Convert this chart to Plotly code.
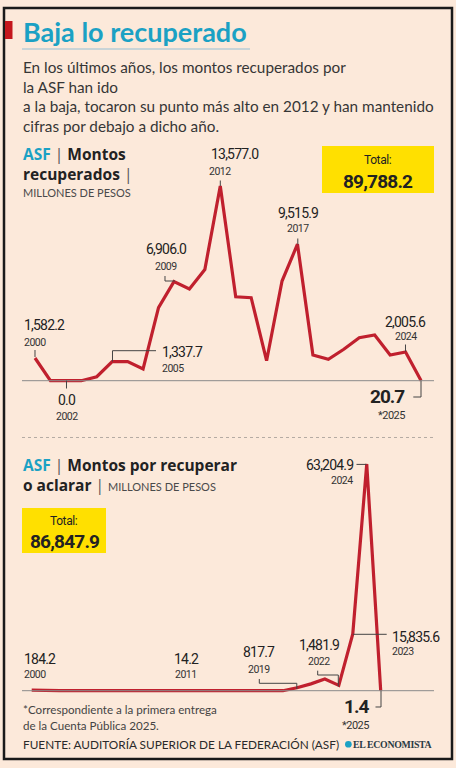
import plotly.graph_objects as go

# ---------------- data ----------------
years = list(range(2000, 2026))
recuperados = [1582.2, 0.0, 0.0, 0.0, 280.0, 1337.7, 1337.0, 815.0, 5100.0, 6906.0,
               6400.0, 7750.0, 13577.0, 5850.0, 5790.0, 1395.0, 6950.0, 9515.9,
               1790.0, 1490.0, 2190.0, 3000.0, 3190.0, 1790.0, 2005.6, 20.7]
por_recuperar = [184.2, 35.0, 20.0, 10.0, 12.0, 15.0, 8.0, 10.0, 12.0, 9.0,
                 7.0, 14.2, 5.0, 4.0, 3.0, 2.0, 2.0, 2.0, 2.0, 817.7,
                 1900.0, 3250.0, 1481.9, 15835.6, 63204.9, 1.4]
total_recuperados = "89,788.2"
total_por_recuperar = "86,847.9"
labels1 = [("1,582.2", "2000"), ("0.0", "2002"), ("1,337.7", "2005"), ("6,906.0", "2009"),
           ("13,577.0", "2012"), ("9,515.9", "2017"), ("2,005.6", "2024"), ("20.7", "*2025")]
labels2 = [("184.2", "2000"), ("14.2", "2011"), ("817.7", "2019"), ("1,481.9", "2022"),
           ("15,835.6", "2023"), ("63,204.9", "2024"), ("1.4", "*2025")]

# ---------------- layout helpers ----------------
W, H = 456, 768
BG = "#FCE9DA"
RED = "#C0202E"
TEAL = "#1BA1C4"
YELLOW = "#FFE000"
DARK = "#222222"
GREY = "#444444"
NUM = "Roboto, sans-serif"
SANS = "Lato, 'Open Sans', sans-serif"
HEAD = "'Open Sans', Lato, sans-serif"


def px(x):
    return x / W


def py(y):
    return 1 - y / H


def tight(t, ls=-0.8):
    return f"<span style='letter-spacing:{ls}px'>{t}</span>"


# chart 1 pixel mapping
X1_0, X1_S = 35.0, 15.44
Y1_0, Y1_K = 380.7, 69.73
# chart 2 pixel mapping
X2_0, X2_S = 31.7, 13.96
Y2_0, Y2_K = 690.7, 278.8

y1min, y1max = -600, 14200
y2min, y2max = -2000, 65500

fig = go.Figure()
fig.add_trace(go.Scatter(x=years, y=recuperados, mode="lines",
                         line=dict(color=RED, width=3.2), xaxis="x", yaxis="y",
                         hoverinfo="skip"))
fig.add_trace(go.Scatter(x=years, y=por_recuperar, mode="lines",
                         line=dict(color=RED, width=3.2), xaxis="x2", yaxis="y2",
                         hoverinfo="skip"))

ax = dict(visible=False, fixedrange=True)
fig.update_layout(
    width=W, height=H, autosize=False,
    margin=dict(l=0, r=0, t=0, b=0),
    paper_bgcolor=BG, plot_bgcolor="rgba(0,0,0,0)",
    showlegend=False, hovermode=False,
    xaxis=dict(ax, range=[1999.5, 2025.5],
               domain=[px(X1_0 - 0.5 * X1_S), px(X1_0 + 25.5 * X1_S)]),
    yaxis=dict(ax, range=[y1min, y1max],
               domain=[py(Y1_0 - y1min / Y1_K), py(Y1_0 - y1max / Y1_K)]),
    xaxis2=dict(ax, range=[1999.5, 2025.5],
                domain=[px(X2_0 - 0.5 * X2_S), px(X2_0 + 25.5 * X2_S)]),
    yaxis2=dict(ax, range=[y2min, y2max],
                domain=[py(Y2_0 - y2min / Y2_K), py(Y2_0 - y2max / Y2_K)]),
)

shapes = []


def rect(x0, y0, x1, y1, fill=None, line=None, lw=0):
    shapes.append(dict(type="rect", xref="paper", yref="paper",
                       x0=px(x0), x1=px(x1), y0=py(y1), y1=py(y0),
                       fillcolor=fill if fill else "rgba(0,0,0,0)",
                       line=dict(color=line if line else "rgba(0,0,0,0)", width=lw),
                       layer="below"))


def path(points, color=GREY, width=1, dash="solid"):
    d = "M " + " L ".join(f"{px(x):.5f},{py(y):.5f}" for x, y in points)
    shapes.append(dict(type="path", xref="paper", yref="paper", path=d,
                       line=dict(color=color, width=width, dash=dash)))


# frame
rect(4, 8, 452, 759, line="#1a1a1a", lw=2.5)
# red marker + title underline
rect(5, 21, 12.5, 39, fill="#C4161C")
path([(22, 49), (250, 49)], color="#B9CCD6", width=1.5)
# yellow boxes
rect(322, 146, 434, 193, fill=YELLOW)
rect(22, 508, 106, 553, fill=YELLOW)
# baselines
path([(22, Y1_0), (434, Y1_0)], color="#8a8a8a", width=1)
path([(22, Y2_0), (434, Y2_0)], color="#8a8a8a", width=1)
# separator
path([(22, 437.5), (434, 437.5)], color="#b5aaa2", width=1, dash="dot")

# connectors chart 1
path([(35, 350), (35, 357)])
path([(66.5, 380.7), (66.5, 388.5)])
path([(112.5, 361.5), (112.5, 350.7), (156, 350.7)])
path([(165, 276), (165, 281), (175, 281)])
path([(220.3, 180.5), (220.3, 186)])
path([(297.8, 238.5), (297.8, 244.5)])
path([(405.5, 344.5), (405.5, 351.5)])
path([(421, 380.7), (421, 397), (413.3, 397)])
# connectors chart 2
path([(356.5, 464.4), (366.5, 464.4)])
path([(352.8, 634.3), (386.7, 634.3)])
path([(381, 690.7), (381, 707), (375.5, 707)])
path([(259.3, 679), (259.3, 683.3), (296.8, 683.3), (296.8, 689)])
path([(317.7, 670.7), (317.7, 675), (338.3, 675), (338.3, 686.5)])

# logo icon
shapes.append(dict(type="circle", xref="paper", yref="paper",
                   x0=px(345), x1=px(351.7), y0=py(747.6), y1=py(740.9),
                   fillcolor=TEAL, line=dict(width=0)))

fig.update_layout(shapes=shapes)

ann = []


def text(t, x, y, anchor="left", size=12, color=DARK, family=NUM):
    ann.append(dict(text=t, x=px(x), y=py(y), xref="paper", yref="paper",
                    xanchor=anchor, yanchor="middle", showarrow=False, align="left",
                    font=dict(size=size, color=color, family=family)))


def value(v, x, y, anchor, size=14):
    text(tight(v, -0.8), x, y, anchor=anchor, size=size)


def year(v, x, y, anchor, size=10.5):
    text(tight(v, -0.5), x, y, anchor=anchor, size=size, color="#333")


# title + intro
text("<b>Baja lo recuperado</b>", 21, 31, size=27, color=TEAL, family=SANS)
body = ["En los últimos años, los montos recuperados por",
        "la ASF han ido",
        "a la baja, tocaron su punto más alto en 2012 y han mantenido",
        "cifras por debajo a dicho año."]
for i, line in enumerate(body):
    text(line, 21, 67 + i * 19.7, size=15.3, color="#363636", family=SANS)

BAR = "<span style='color:#555;font-weight:normal'>|</span>"
ASF = f"<b><span style='color:{TEAL}'>ASF</span></b>"

# chart 1 header
text(f"{ASF} {BAR} <b>Montos</b><br><b>recuperados</b> {BAR}",
     21, 163.5, size=15.5, family=HEAD)
text("MILLONES DE PESOS", 21, 193, size=11, color="#4a4a4a", family=SANS)
text(tight("Total:", -0.4), 378, 160, anchor="center", size=12)
text(tight(f"<b>{total_recuperados}</b>", -0.8), 378, 181, anchor="center", size=19)

# chart 2 header
text(f"{ASF} {BAR} <b>Montos por recuperar</b><br><b>o aclarar</b> {BAR} "
     f"<span style='font-size:11px;color:#4a4a4a;font-family:Lato'>MILLONES DE PESOS</span>",
     21, 474.5, size=15.5, family=HEAD)
text(tight("Total:", -0.4), 64, 521, anchor="center", size=12)
text(tight(f"<b>{total_por_recuperar}</b>", -0.8), 64, 541, anchor="center", size=19)

# chart 1 value labels: (x_value, anchor, x_year, y_value, y_year)
pos1 = [(22, "left", 22, 325, 342), (67, "center", 67, 400, 416),
        (160, "left", 160, 351.5, 368.5), (166, "center", 166, 249, 266),
        (208.5, "left", None, 154, 171), (298, "center", 298, 213, 229),
        (405.5, "center", 405.5, 321.7, 336.7), (407, "right", 407, 396.7, 415)]
for (v, yr), (x, anc, xy, yv, yy) in zip(labels1, pos1):
    if v == "20.7":
        text(tight(f"<b>{v}</b>", -1.0), x, yv, anchor=anc, size=19)
        year(yr, x, yy, anc, size=11)
    elif xy is None:
        value(v, x, yv, anc)
        year(yr, 220, yy, "center")
    else:
        value(v, x, yv, anc)
        year(yr, xy, yy, anc)

# chart 2 value labels
pos2 = [(22, "left", 659.3, 674), (186, "center", 659.3, 674), (259, "center", 651.7, 669.3),
        (318.5, "center", 645, 661.7), (390, "left", 636.7, 651.7),
        (355, "right", 464.5, 480), (371, "right", 706.7, 725)]
for (v, yr), (x, anc, yv, yy) in zip(labels2, pos2):
    if v == "1.4":
        text(tight(f"<b>{v}</b>", -1.0), x, yv, anchor=anc, size=19)
        year(yr, x, yy, anc, size=11)
    else:
        value(v, x, yv, anc)
        year(yr, x, yy, anc)

# footnotes
text("*Correspondiente a la primera entrega", 21, 709, size=11.6, color="#444", family=SANS)
text("de la Cuenta Pública 2025.", 21, 725.5, size=11.6, color="#444", family=SANS)
text("FUENTE: AUDITORÍA SUPERIOR DE LA FEDERACIÓN (ASF)", 21, 744, size=11.8, color="#2a2a2a", family=SANS)
text(tight("<b>EL ECONOMISTA</b>", -0.3), 434, 744.3, anchor="right", size=9.8, color="#2a3a44",
     family="Liberation Serif, 'DejaVu Serif', serif")

fig.update_layout(annotations=ann)
fig.write_html("out.html")
